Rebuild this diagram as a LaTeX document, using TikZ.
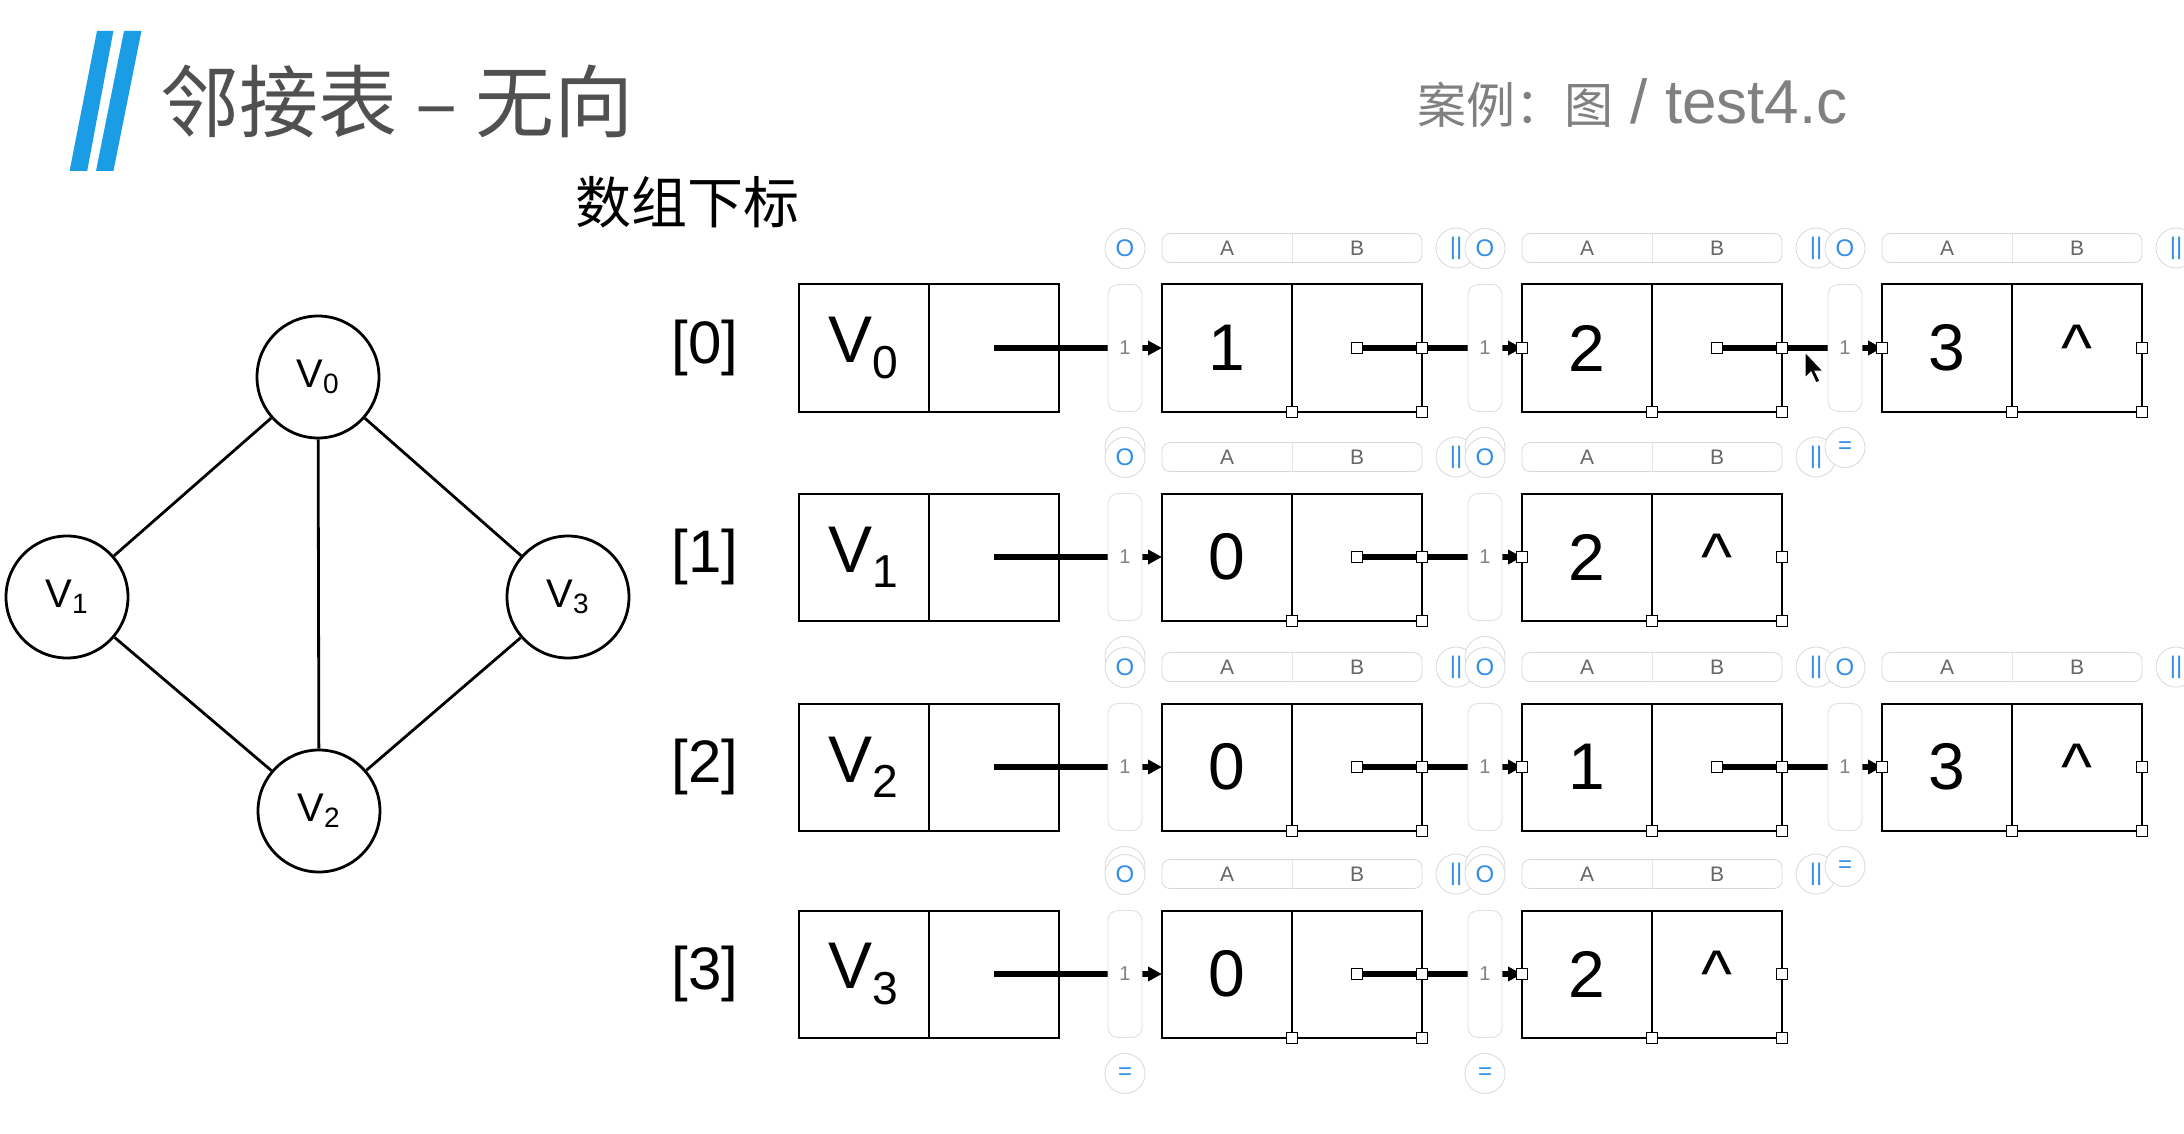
\documentclass[tikz,border=0pt]{standalone}
\usepackage{fontspec}
\setmainfont{Liberation Sans}
\newfontfamily\cjk{Noto Sans CJK SC}
\usetikzlibrary{positioning,arrows.meta}
\definecolor{titleblue}{RGB}{27,157,230}
\definecolor{uiblue}{RGB}{52,142,228}
\definecolor{titlegray}{RGB}{80,80,80}

\begin{document}
\begin{tikzpicture}[
    x=0.5pt, y=-0.5pt,
    vtx/.style={draw, circle, line width=1.4pt, minimum size=61pt, inner sep=0pt, font=\fontsize{20}{20}\selectfont},
    gedge/.style={line width=1.4pt},
    cell/.style={draw, line width=1pt, minimum width=65pt, minimum height=63.5pt, inner sep=0pt, outer sep=0pt, font=\fontsize{33}{33}\selectfont},
    idx/.style={inner sep=0pt, font=\fontsize{30}{30}\selectfont},
    link/.style={-{Triangle[length=7pt, width=7pt]}, line width=2.7pt},
    pill/.style={draw=gray!25, fill=white, rounded corners=5pt, minimum width=17pt, minimum height=63.5pt, inner sep=0pt, outer sep=0pt, font=\fontsize{10}{10}\selectfont, text=gray},
    handle/.style={draw, fill=white, line width=0.5pt, minimum size=5.5pt, inner sep=0pt},
    tab/.style={minimum width=65pt, minimum height=14.5pt, inner sep=0pt, outer sep=0pt, font=\fontsize{10.5}{10.5}\selectfont, text=gray!80!black},
    btn/.style={draw=gray!30, fill=white, circle, minimum size=20pt, inner sep=0pt, outer sep=0pt, font=\fontsize{12}{12}\selectfont, text=uiblue}
]
\useasboundingbox (0,0) rectangle (2184,1134);
\fill[white] (0,0) rectangle (2184,1134);

% Title
\fill[titleblue] (69.6,171) -- (97,31) -- (113.4,31) -- (87.2,171) -- cycle;
\fill[titleblue] (96,171) -- (124,31) -- (141.4,31) -- (113.4,171) -- cycle;
\node[anchor=west, inner sep=0pt, text=titlegray, font=\cjk\fontsize{39.5}{39.5}\selectfont] (title) at (160,101) {邻接表 – 无向};
\node[anchor=west, inner sep=0pt, font=\cjk\fontsize{28}{28}\selectfont] (sub) at (575,202) {数组下标};
\node[anchor=west, inner sep=0pt, text=gray] (case) at (1417,103) {{\cjk\fontsize{24.5}{24.5}\selectfont 案例：图}{\fontsize{31}{31}\selectfont\ / test4.c}};

% Graph
\node[vtx] (v0) at (318,377) {V\textsubscript{0}};
\node[vtx] (v1) at (67,597) {V\textsubscript{1}};
\node[vtx] (v3) at (568,597) {V\textsubscript{3}};
\node[vtx] (v2) at (319,811) {V\textsubscript{2}};
\draw[gedge] (v0) -- (v1);
\draw[gedge] (v0) -- (v2);
\draw[gedge] (v0) -- (v3);
\draw[gedge] (v1) -- (v2);
\draw[gedge] (v2) -- (v3);

% Row 0
\node[cell] (h0a) at (864,348) {V\textsubscript{0}};
\node[cell, right=0pt of h0a] (h0b) {};
\node[idx, left=30pt of h0a] (i0) {[0]};
\node[cell, right=51.5pt of h0b] (e01a) {1};
\node[cell, right=0pt of e01a] (e01b) {};
\node[cell, right=50pt of e01b] (e02a) {2};
\node[cell, right=0pt of e02a] (e02b) {};
\node[cell, right=50pt of e02b] (e03a) {3};
\node[cell, right=0pt of e03a] (e03b) {\textasciicircum};

% Row 1
\node[cell] (h1a) at (864,557) {V\textsubscript{1}};
\node[cell, right=0pt of h1a] (h1b) {};
\node[idx, left=30pt of h1a] (i1) {[1]};
\node[cell, right=51.5pt of h1b] (e11a) {0};
\node[cell, right=0pt of e11a] (e11b) {};
\node[cell, right=50pt of e11b] (e12a) {2};
\node[cell, right=0pt of e12a] (e12b) {\textasciicircum};

% Row 2
\node[cell] (h2a) at (864,767) {V\textsubscript{2}};
\node[cell, right=0pt of h2a] (h2b) {};
\node[idx, left=30pt of h2a] (i2) {[2]};
\node[cell, right=51.5pt of h2b] (e21a) {0};
\node[cell, right=0pt of e21a] (e21b) {};
\node[cell, right=50pt of e21b] (e22a) {1};
\node[cell, right=0pt of e22a] (e22b) {};
\node[cell, right=50pt of e22b] (e23a) {3};
\node[cell, right=0pt of e23a] (e23b) {\textasciicircum};

% Row 3
\node[cell] (h3a) at (864,974) {V\textsubscript{3}};
\node[cell, right=0pt of h3a] (h3b) {};
\node[idx, left=30pt of h3a] (i3) {[3]};
\node[cell, right=51.5pt of h3b] (e31a) {0};
\node[cell, right=0pt of e31a] (e31b) {};
\node[cell, right=50pt of e31b] (e32a) {2};
\node[cell, right=0pt of e32a] (e32b) {\textasciicircum};

% Pointers
\draw[link] (h0b.center) -- (e01a.west);
\draw[link] (e01b.center) -- (e02a.west);
\draw[link] (e02b.center) -- (e03a.west);
\draw[link] (h1b.center) -- (e11a.west);
\draw[link] (e11b.center) -- (e12a.west);
\draw[link] (h2b.center) -- (e21a.west);
\draw[link] (e21b.center) -- (e22a.west);
\draw[link] (e22b.center) -- (e23a.west);
\draw[link] (h3b.center) -- (e31a.west);
\draw[link] (e31b.center) -- (e32a.west);

% Pills on the pointers
\node[pill, left=10pt of e01a] (p01) {1};
\node[pill, left=10pt of e02a] (p02) {1};
\node[pill, left=10pt of e03a] (p03) {1};
\node[pill, left=10pt of e11a] (p11) {1};
\node[pill, left=10pt of e12a] (p12) {1};
\node[pill, left=10pt of e21a] (p21) {1};
\node[pill, left=10pt of e22a] (p22) {1};
\node[pill, left=10pt of e23a] (p23) {1};
\node[pill, left=10pt of e31a] (p31) {1};
\node[pill, left=10pt of e32a] (p32) {1};

% Selection handles
\foreach \n in {01,02,03,11,12,21,22,23,31,32} {
  \node[handle] (k\n r) at (e\n b.east) {};
  \node[handle] (k\n m) at (e\n a.south east) {};
  \node[handle] (k\n c) at (e\n b.south east) {};
}
\foreach \n in {01,02,11,21,22,31} \node[handle] (k\n s) at (e\n b.center) {};
\foreach \n in {02,03,12,22,23,32} \node[handle] (k\n w) at (e\n a.west) {};

% A|B bars and buttons
\foreach \n in {01,02,03,11,12,21,22,23,31,32} {
  \node[tab, above=11pt of e\n a] (t\n a) {A};
  \node[tab, above=11pt of e\n b] (t\n b) {B};
  \draw[gray!30, rounded corners=4pt] (t\n a.north west) rectangle (t\n b.south east);
  \draw[gray!20] (t\n a.north east) -- (t\n a.south east);
  \node[btn, right=7pt of t\n b] (s\n) {||};
}
\foreach \n in {01,02,03,11,12,21,22,23,31,32} \node[btn, below=8pt of p\n] (q\n) {=};
\foreach \n in {01,02,03,11,12,21,22,23,31,32} \node[btn, above=8pt of p\n] (o\n) {O};

% Mouse pointer
\filldraw[fill=black, draw=white, line width=0.5pt] (1805,352) -- (1805,378) -- (1811,372) -- (1816,383) -- (1820,381) -- (1815,371) -- (1823,371) -- cycle;

\end{tikzpicture}
\end{document}
